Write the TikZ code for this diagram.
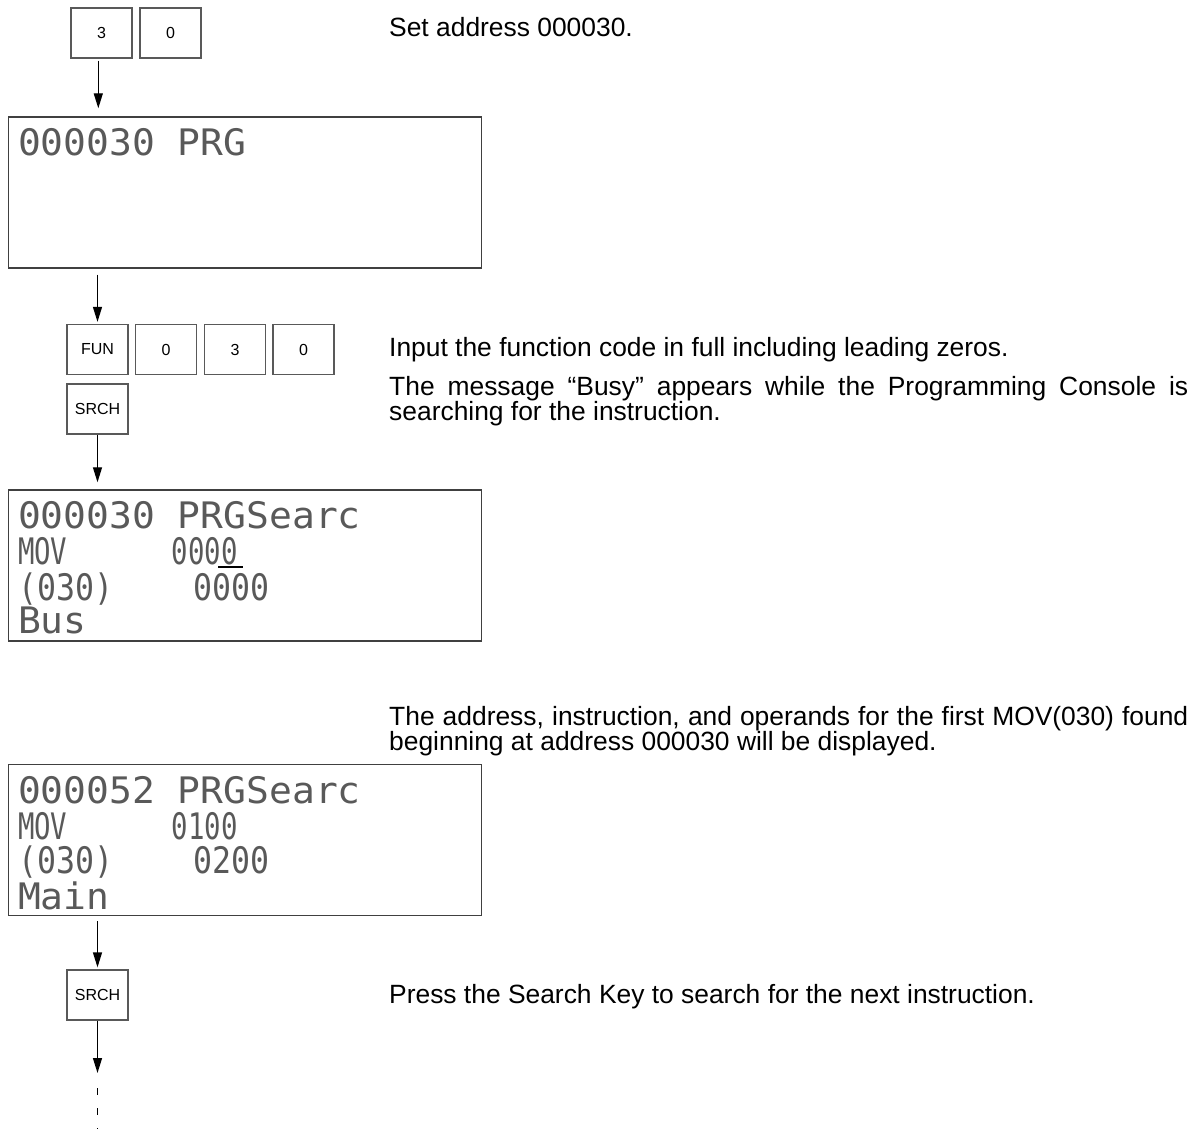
\documentclass[tikz,border=0pt]{standalone}
\usepackage{fontspec}
\usepackage{graphicx}
\setmainfont{Liberation Sans}
\newfontfamily\lcdfont{DejaVu Sans Mono}
\usetikzlibrary{arrows.meta}
\newcommand\lcdsc[2]{\scalebox{#1}[1]{#2}}
\begin{document}
\begin{tikzpicture}[x=1pt,y=-1pt,
  keybox/.style={draw=black!65, line width=1.3pt, minimum width=61pt, minimum height=50pt, inner sep=0pt, font=\fontsize{16}{18}\selectfont},
  lcd/.style={draw=black!75, line width=1.4pt, minimum width=473.4pt, minimum height=151pt, inner sep=0pt},
  lcdtxt/.style={anchor=base west, inner sep=0pt, text=black!65, font=\lcdfont\fontsize{36.5}{40}\selectfont},
  body/.style={anchor=base west, inner sep=0pt, font=\fontsize{26.4}{28}\selectfont},
  arr/.style={line width=1.3pt, -{Triangle[length=15pt,width=9pt]}}]
\useasboundingbox (0,0) rectangle (1204,1129);

% keys
\node[keybox] (k3) at (101.5,33) {3};
\node[keybox] (k0) at (170.5,33) {0};
\node[keybox] (fun) at (97.5,349.5) {FUN};
\node[keybox] (fa) at (166,349.5) {0};
\node[keybox] (fb) at (235,349.5) {3};
\node[keybox] (fc) at (303.5,349.5) {0};
\node[keybox] (srch1) at (97.5,409) {SRCH};
\node[keybox] (srch2) at (97.5,995) {SRCH};

% LCD displays
\node[lcd] (lcd1) at (245,192.5) {};
\node[lcd] (lcd2) at (245,565.5) {};
\node[lcd] (lcd3) at (245,840) {};

% LCD 1 text
\node[lcdtxt] (l1a) at (17.8,155) {\lcdsc{1.04}{000030 PRG}};

% LCD 2 text
\node[lcdtxt] (l2a) at (17.8,528) {\lcdsc{1.04}{000030 PRGSearc}};
\node[lcdtxt] (l2b) at (17.8,564) {\lcdsc{0.75}{MOV}};
\node[lcdtxt] (l2c) at (171.7,564) {\lcdsc{0.75}{0000}};
\node[lcdtxt] (l2d) at (18,600) {\lcdsc{0.865}{(030)}};
\node[lcdtxt] (l2e) at (193,600) {\lcdsc{0.865}{0000}};
\node[lcdtxt] (l2f) at (17.8,633) {\lcdsc{1.04}{Bus}};
\draw[line width=2pt] (218,567) -- (243,567);

% LCD 3 text
\node[lcdtxt] (l3a) at (17.8,803) {\lcdsc{1.04}{000052 PRGSearc}};
\node[lcdtxt] (l3b) at (17.8,839) {\lcdsc{0.75}{MOV}};
\node[lcdtxt] (l3c) at (171.7,839) {\lcdsc{0.75}{0100}};
\node[lcdtxt] (l3d) at (18,873) {\lcdsc{0.865}{(030)}};
\node[lcdtxt] (l3e) at (193,873) {\lcdsc{0.865}{0200}};
\node[lcdtxt] (l3f) at (17.8,909) {\lcdsc{1.04}{Main}};

% arrows
\draw[arr, shorten <=2pt, shorten >=8pt] ([xshift=-3.2pt]k3.south) -- ([xshift=-3.2pt]k3.south |- lcd1.north);
\draw[arr, shorten <=6pt, shorten >=2pt] (fun.north |- lcd1.south) -- (fun.north);
\draw[arr, shorten >=7pt] (srch1.south) -- (srch1.south |- lcd2.north);
\draw[arr, shorten <=5pt, shorten >=2pt] (srch2.north |- lcd3.south) -- (srch2.north);
\coordinate (e1) at (97.5,1073);
\draw[arr] (srch2.south) -- (e1);
\coordinate (d1) at (97.5,1088);
\coordinate (d2) at (97.5,1129);
\draw[line width=1.3pt, dash pattern=on 7pt off 13pt] (d1) -- (d2);

% descriptions
\node[body] (s1) at (389,37) {Set address 000030.};
\node[body] (s2) at (389,356) {Input the function code in full including leading zeros.};
\node[body] (s3) at (389,395) {\makebox[799pt][s]{The message “Busy” appears while the Programming Console is}};
\node[body] (s4) at (389,420) {searching for the instruction.};
\node[body] (s5) at (389,725) {\makebox[799pt][s]{The address, instruction, and operands for the first MOV(030) found}};
\node[body] (s6) at (389,750) {beginning at address 000030 will be displayed.};
\node[body] (s7) at (389,1003) {Press the Search Key to search for the next instruction.};
\end{tikzpicture}
\end{document}
